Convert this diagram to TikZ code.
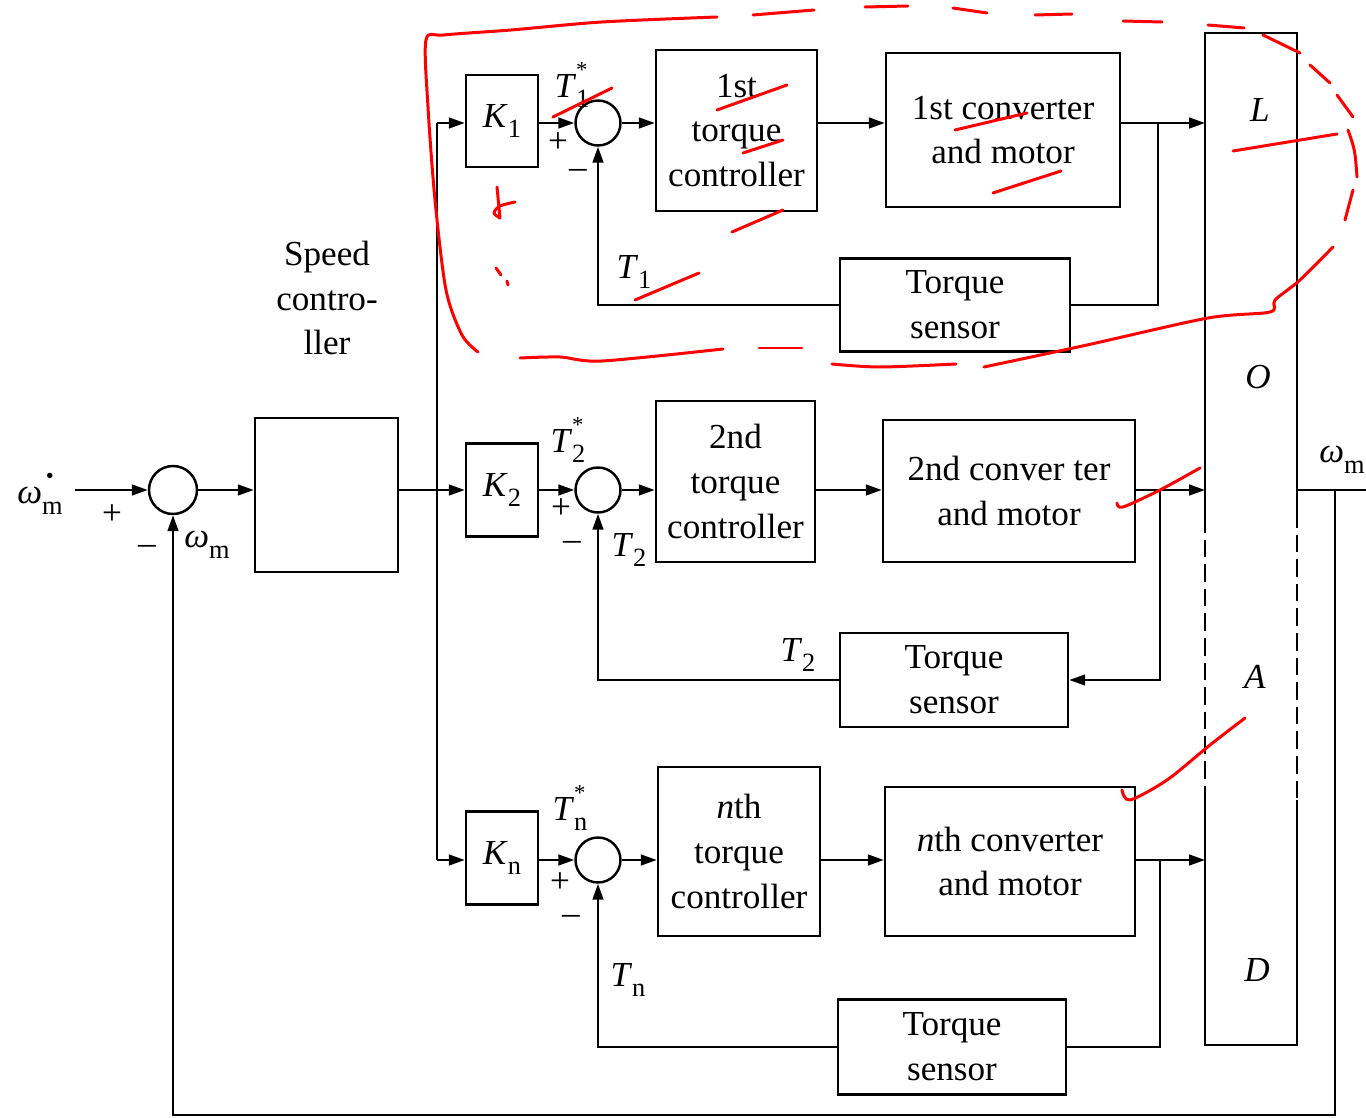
\documentclass[tikz,border=0pt]{standalone}
\usepackage{fontspec}
\setmainfont{Liberation Serif}
\usetikzlibrary{arrows.meta}
\newcommand{\sv}[3]{\textit{#1}\makebox[0pt][l]{\raisebox{1.25ex}{\fontsize{13}{13}\selectfont #3}}\raisebox{-0.65ex}{\fontsize{15}{15}\selectfont #2}}
\begin{document}
\begin{tikzpicture}[x=0.02cm,y=-0.02cm,
  font=\fontsize{20}{25.5}\selectfont,
  line width=1.4pt,
  >={Triangle[length=9pt,width=6pt]},
  blk/.style={draw,rectangle,align=center,inner sep=0pt},
  sumc/.style={draw,circle,minimum size=0.9cm,inner sep=0pt},
  lbl/.style={inner sep=0pt},
  ann/.style={draw=red,line width=1.7pt,line cap=round,line join=round}]
\useasboundingbox (0,0) rectangle (1366,1118);

% speed loop
\node[sumc,minimum size=0.96cm] (S0) at (173,490) {};
\node[blk,minimum width=2.86cm,minimum height=3.08cm] (SC) at (326.5,495) {};
\node[lbl,align=center] (SCL) at (327,298) {Speed\\contro-\\ller};
\coordinate (in) at (75,490);
\node[lbl] (wref) at (40,494) {\sv{ω}{m}{\,\textbullet}};
\node[lbl] (pl0) at (112,515) {+};
\node[lbl] (mi0) at (147,550) {–};
\node[lbl] (wfb) at (207,543) {\sv{ω}{m}{}};

% gains
\node[blk,minimum width=1.44cm,minimum height=1.84cm] (K1) at (502,121) {\sv{K}{1}{}};
\node[blk,minimum width=1.44cm,minimum height=1.86cm] (K2) at (502,490) {\sv{K}{2}{}};
\node[blk,minimum width=1.44cm,minimum height=1.86cm] (Kn) at (502,858) {\sv{K}{n}{}};

% summing junctions
\node[sumc] (S1) at (598,123) {};
\node[sumc] (S2) at (598,490) {};
\node[sumc] (Sn) at (598,860) {};

% torque controllers
\node[blk,minimum width=3.22cm,minimum height=3.22cm] (TC1) at (736.5,130.5) {1st\\torque\\controller};
\node[blk,minimum width=3.18cm,minimum height=3.22cm] (TC2) at (735.5,481.5) {2nd\\torque\\controller};
\node[blk,minimum width=3.24cm,minimum height=3.38cm] (TCn) at (739,851.5) {\textit{n}th\\torque\\controller};

% converters
\node[blk,minimum width=4.68cm,minimum height=3.08cm] (CM1) at (1003,130) {1st converter\\and motor};
\node[blk,minimum width=5.04cm,minimum height=2.84cm] (CM2) at (1009,491) {2nd conver ter\\and motor};
\node[blk,minimum width=5.0cm,minimum height=2.98cm] (CMn) at (1010,861.5) {\textit{n}th converter\\and motor};

% torque sensors
\node[blk,minimum width=4.6cm,minimum height=1.86cm] (TS1) at (955,305) {Torque\\sensor};
\node[blk,minimum width=4.56cm,minimum height=1.88cm] (TS2) at (954,680) {Torque\\sensor};
\node[blk,minimum width=4.56cm,minimum height=1.9cm] (TSn) at (952,1047) {Torque\\sensor};

% load
\node[inner sep=0pt,minimum width=1.84cm,minimum height=20.24cm] (LD) at (1251,539) {};
\draw (1205,515) -- (1205,33) -- (1297,33) -- (1297,510);
\draw[dash pattern=on 10pt off 4pt] (1205,515) -- (1205,800);
\draw[dash pattern=on 10pt off 4pt] (1297,510) -- (1297,800);
\draw (1205,800) -- (1205,1045) -- (1297,1045) -- (1297,800);
\node[lbl] (LL) at (1260,110) {\textit{L}};
\node[lbl] (LO) at (1258,377) {\textit{O}};
\node[lbl] (LA) at (1255,677) {\textit{A}};
\node[lbl] (LDD) at (1257,970) {\textit{D}};

% labels of branches
\node[lbl] (t1s) at (572,85) {\sv{T}{1}{*}};
\node[lbl] (p1) at (558,143) {+};
\node[lbl] (m1) at (578,174) {–};
\node[lbl] (t1) at (634,272) {\sv{T}{1}{}};
\node[lbl] (t2s) at (568,440) {\sv{T}{2}{*}};
\node[lbl] (p2) at (561,509) {+};
\node[lbl] (m2) at (572,546) {–};
\node[lbl] (t2a) at (629,550) {\sv{T}{2}{}};
\node[lbl] (t2b) at (798,655) {\sv{T}{2}{}};
\node[lbl] (tns) at (570,808) {\sv{T}{n}{*}};
\node[lbl] (pn) at (560,883) {+};
\node[lbl] (mn) at (571,920) {–};
\node[lbl] (tn) at (628,980) {\sv{T}{n}{}};
\node[lbl] (wout) at (1342,458) {\sv{ω}{m}{}};

% connectors: speed loop
\draw[->] (in) -- (S0.west);
\draw[->] (S0.east) -- (SC.west |- S0);
\coordinate (busT) at (437,123);
\coordinate (busM) at (437,490);
\coordinate (busB) at (437,860);
\draw (SC.east |- S0) -- (busM);
\draw (busT) -- (busB);
\draw[->] (busT) -- (K1.west |- busT);
\draw[->] (busM) -- (K2.west);
\draw[->] (busB) -- (Kn.west |- busB);

% branch 1
\draw[->] (K1.east |- S1) -- (S1.west);
\draw[->] (S1.east) -- (TC1.west |- S1);
\draw[->] (TC1.east |- S1) -- (CM1.west |- S1);
\coordinate (b1) at (1158,123);
\draw[->] (CM1.east |- S1) -- (1205,123);
\draw (b1) |- (TS1.east);
\draw[->] (TS1.west) -| (S1.south);

% branch 2
\draw[->] (K2.east) -- (S2.west);
\draw[->] (S2.east) -- (TC2.west |- S2);
\draw[->] (TC2.east |- S2) -- (CM2.west |- S2);
\coordinate (b2) at (1160,490);
\draw[->] (CM2.east |- S2) -- (1205,490);
\draw[->] (b2) |- (TS2.east);
\draw[->] (TS2.west) -| (S2.south);

% branch n
\draw[->] (Kn.east |- Sn) -- (Sn.west);
\draw[->] (Sn.east) -- (TCn.west |- Sn);
\draw[->] (TCn.east |- Sn) -- (CMn.west |- Sn);
\coordinate (bn) at (1160,860);
\draw[->] (CMn.east |- Sn) -- (1205,860);
\draw (bn) |- (TSn.east);
\draw[->] (TSn.west) -| (Sn.south);

% output and speed feedback
\coordinate (out) at (1366,490);
\coordinate (ob) at (1335,490);
\coordinate (fb) at (1335,1115);
\draw (1297,490) -- (out);
\draw[->] (ob) -- (fb) -| (S0.south);

% red annotations
\draw[ann] plot[smooth] coordinates {(478,352) (462,335) (446,290) (435,200) (428,107) (426,40) (444,35) (511,30) (602,22) (717,17)};
\draw[ann] (753,15) -- (814,10);
\draw[ann] (865,7) -- (908,6);
\draw[ann] (953,8) -- (987,13);
\draw[ann] (1035,15) -- (1072,14);
\draw[ann] (1123,21) -- (1162,22);
\draw[ann] (1208,25) -- (1244,28);
\draw[ann] (1263,35) -- (1300,53);
\draw[ann] (1310,65) -- (1330,83);
\draw[ann] (1337,95) -- (1353,117);
\draw[ann] (1348,130) .. controls (1355,150) .. (1357,177);
\draw[ann] (1353,190) -- (1345,220);
\draw[ann] plot[smooth] coordinates {(1333,247) (1300,280) (1275,300) (1270,312) (1208,318) (1087,345) (984,367)};
\draw[ann] plot[smooth] coordinates {(832,364) (880,367) (956,364)};
\draw[ann] (759,348) -- (802,348);
\draw[ann] plot[smooth] coordinates {(520,358) (560,357) (602,361) (723,349)};
\draw[ann] (496,268) -- (501,275);
\draw[ann] (507,281) -- (508,285);
\draw[ann] (553,117) -- (612,88);
\draw[ann] (717,110) -- (787,85);
\draw[ann] (743,153) -- (783,140);
\draw[ann] (732,232) -- (783,210);
\draw[ann] (955,130) -- (1027,113);
\draw[ann] (993,193) -- (1061,171);
\draw[ann] (635,300) -- (699,273);
\draw[ann] (1233,151) -- (1337,134);
\draw[ann] (497,187) -- (500,218);
\draw[ann] plot[smooth] coordinates {(500,218) (494,213) (500,206) (515,202)};
\draw[ann] plot[smooth] coordinates {(1117,503) (1123,507) (1160,490) (1200,468)};
\draw[ann] plot[smooth] coordinates {(1122,790) (1130,800) (1167,780) (1210,745) (1245,718)};
\end{tikzpicture}
\end{document}
